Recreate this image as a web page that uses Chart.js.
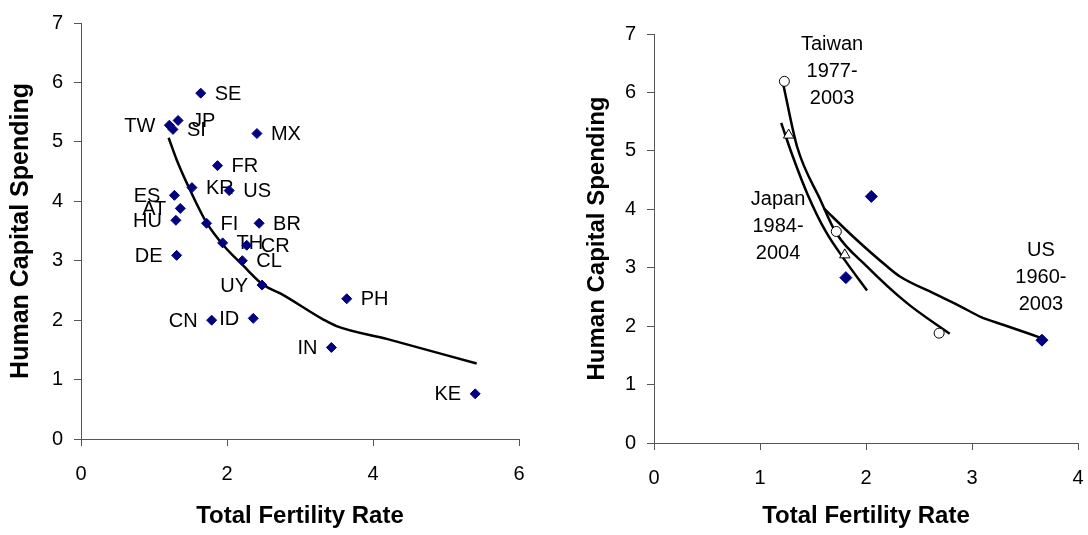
<!DOCTYPE html>
<html>
<head>
<meta charset="utf-8">
<script src="https://cdn.jsdelivr.net/npm/chart.js@4"></script>
<style>
  html, body { margin: 0; padding: 0; background: #fff; overflow: hidden; }
  #esquerda { position: absolute; left: 0; top: 0; width: 545px; height: 535px; }
  #direita { position: absolute; left: 545px; top: 0; width: 543px; height: 535px; }
</style>
</head>
<body>
<div id="esquerda"><canvas id="graficoPaises"></canvas></div>
<div id="direita"><canvas id="graficoSeries"></canvas></div>
<script>
// Painel esquerdo: países
const paises = ['SE', 'JP', 'TW', 'SI', 'MX', 'FR', 'KR', 'US', 'ES', 'AT', 'HU', 'FI', 'BR', 'TH', 'CR', 'DE', 'CL', 'UY', 'CN', 'ID', 'PH', 'IN', 'KE'];
const fertilidadePaises = [1.64, 1.33, 1.21, 1.26, 2.41, 1.87, 1.52, 2.03, 1.28, 1.36, 1.30, 1.72, 2.44, 1.94, 2.27, 1.31, 2.21, 2.48, 1.79, 2.36, 3.64, 3.43, 5.40];
const gastoPaises = [5.82, 5.36, 5.28, 5.21, 5.14, 4.60, 4.23, 4.18, 4.10, 3.88, 3.68, 3.63, 3.63, 3.30, 3.26, 3.09, 3.00, 2.59, 2.00, 2.03, 2.36, 1.54, 0.76];
const rotuloEsquerda = ['TW', 'ES', 'AT', 'HU', 'DE', 'UY', 'CN', 'ID', 'IN', 'KE'];

const tendenciaX = [1.20, 1.31, 1.49, 1.72, 1.95, 2.22, 2.50, 2.73, 3.32, 3.50, 4.20, 5.42];
const tendenciaY = [5.07, 4.70, 4.20, 3.64, 3.26, 2.92, 2.59, 2.45, 2.01, 1.90, 1.68, 1.27];

// Painel direito: séries temporais
const taiwanX = [1.23, 1.72, 2.69];
const taiwanY = [6.19, 3.62, 1.88];
const japaoX = [1.27, 1.80];
const japaoY = [5.27, 3.22];
const euaX = [2.05, 1.81, 3.66];
const euaY = [4.22, 2.83, 1.76];

const curvaTaiwanX = [1.22, 1.35, 1.57, 1.72, 2.01, 2.39, 2.79];
const curvaTaiwanY = [6.13, 5.07, 4.16, 3.59, 3.02, 2.39, 1.87];
const curvaJapaoX = [1.20, 1.30, 1.45, 1.62, 1.80, 2.01];
const curvaJapaoY = [5.48, 4.95, 4.25, 3.62, 3.13, 2.61];
const curvaEuaX = [1.60, 1.88, 2.20, 2.32, 2.64, 2.89, 3.08, 3.30, 3.65];
const curvaEuaY = [4.02, 3.53, 3.02, 2.85, 2.56, 2.34, 2.16, 2.02, 1.80];

const notasTexto = [['Taiwan', '1977-', '2003'], ['Japan', '1984-', '2004'], ['US', '1960-', '2003']];
const notasX = [1.68, 1.17, 3.65];
const notasY = [6.82, 4.16, 3.30];

const fonte = '"Liberation Sans", Arial, sans-serif';
const pares = (xs, ys) => xs.map((x, i) => ({ x, y: ys[i] }));

// Rótulos dos países ao lado de cada ponto
const rotulosPaises = {
  id: 'rotulosPaises',
  beforeDatasetsDraw(chart) {
    const ctx = chart.ctx;
    const meta = chart.getDatasetMeta(0);
    ctx.save();
    ctx.font = '20px ' + fonte;
    ctx.fillStyle = '#000';
    ctx.textBaseline = 'middle';
    meta.data.forEach((ponto, i) => {
      const esquerda = rotuloEsquerda.includes(paises[i]);
      ctx.textAlign = esquerda ? 'right' : 'left';
      ctx.fillText(paises[i], ponto.x + (esquerda ? -14 : 14), ponto.y + 1);
    });
    ctx.restore();
  }
};

// Notas de texto do painel direito
const notas = {
  id: 'notas',
  afterDatasetsDraw(chart) {
    const { ctx, scales } = chart;
    ctx.save();
    ctx.font = '20px ' + fonte;
    ctx.fillStyle = '#000';
    ctx.textAlign = 'center';
    ctx.textBaseline = 'middle';
    notasTexto.forEach((linhas, k) => {
      const px = scales.x.getPixelForValue(notasX[k]);
      const py = scales.y.getPixelForValue(notasY[k]);
      linhas.forEach((t, j) => ctx.fillText(t, px, py + j * 27));
    });
    ctx.restore();
  }
};

function eixos(maxX, passoX, larguraY, alturaX, padTituloY, tamTituloY) {
  const grade = { drawOnChartArea: false, drawTicks: true, tickLength: 7, color: '#555', tickColor: '#555' };
  return {
    x: {
      type: 'linear', min: 0, max: maxX,
      grid: grade,
      border: { display: true, color: '#555', width: 1 },
      ticks: { stepSize: passoX, color: '#000', padding: 16, font: { family: fonte, size: 20 } },
      title: { display: true, text: 'Total Fertility Rate', color: '#000', padding: { top: 0, bottom: 4 }, font: { family: fonte, size: 24, weight: 'bold' } },
      afterFit(scale) {
        scale.height = alturaX;
        scale.paddingRight = 6;
      }
    },
    y: {
      type: 'linear', min: 0, max: 7,
      grid: grade,
      border: { display: true, color: '#555', width: 1 },
      ticks: { stepSize: 1, color: '#000', padding: 11, font: { family: fonte, size: 20 } },
      title: { display: true, text: 'Human Capital Spending', color: '#000', padding: { top: padTituloY, bottom: 0 }, font: { family: fonte, size: tamTituloY, weight: 'bold' } },
      afterFit(scale) { scale.width = larguraY; }
    }
  };
}

const opcoesBase = {
  responsive: true,
  maintainAspectRatio: false,
  animation: false,
  plugins: { legend: { display: false }, tooltip: { enabled: false } }
};

new Chart(document.getElementById('graficoPaises'), {
  type: 'scatter',
  data: {
    datasets: [
      {
        label: 'Países',
        data: pares(fertilidadePaises, gastoPaises),
        pointStyle: 'rectRot', pointRadius: 5,
        backgroundColor: '#000080', borderColor: '#000080', borderWidth: 1
      },
      {
        label: 'Tendência',
        data: pares(tendenciaX, tendenciaY),
        showLine: true, pointRadius: 0,
        borderColor: '#000', borderWidth: 2.5,
        cubicInterpolationMode: 'monotone'
      }
    ]
  },
  options: Object.assign({}, opcoesBase, {
    layout: { padding: { top: 18, right: 26, left: 0, bottom: 0 } },
    scales: eixos(6, 2, 81, 96, 6, 25)
  }),
  plugins: [rotulosPaises]
});

const curva = (xs, ys, nome) => ({
  label: nome, data: pares(xs, ys), showLine: true, pointRadius: 0,
  borderColor: '#000', borderWidth: 2.5, cubicInterpolationMode: 'monotone'
});

new Chart(document.getElementById('graficoSeries'), {
  type: 'scatter',
  data: {
    datasets: [
      { label: 'Taiwan', data: pares(taiwanX, taiwanY), pointStyle: 'circle', pointRadius: 5, backgroundColor: '#fff', borderColor: '#000', borderWidth: 1 },
      { label: 'Japan', data: pares(japaoX, japaoY), pointStyle: 'triangle', pointRadius: 6, backgroundColor: '#fff', borderColor: '#000', borderWidth: 1 },
      { label: 'US', data: pares(euaX, euaY), pointStyle: 'rectRot', pointRadius: 6, backgroundColor: '#000080', borderColor: '#000080', borderWidth: 1 },
      curva(curvaTaiwanX, curvaTaiwanY, 'Taiwan curva'),
      curva(curvaJapaoX, curvaJapaoY, 'Japan curva'),
      curva(curvaEuaX, curvaEuaY, 'US curva')
    ]
  },
  options: Object.assign({}, opcoesBase, {
    layout: { padding: { top: 34, right: 10, left: 0, bottom: 0 } },
    scales: eixos(4, 1, 109, 92, 38, 24)
  }),
  plugins: [notas]
});
</script>
</body>
</html>
